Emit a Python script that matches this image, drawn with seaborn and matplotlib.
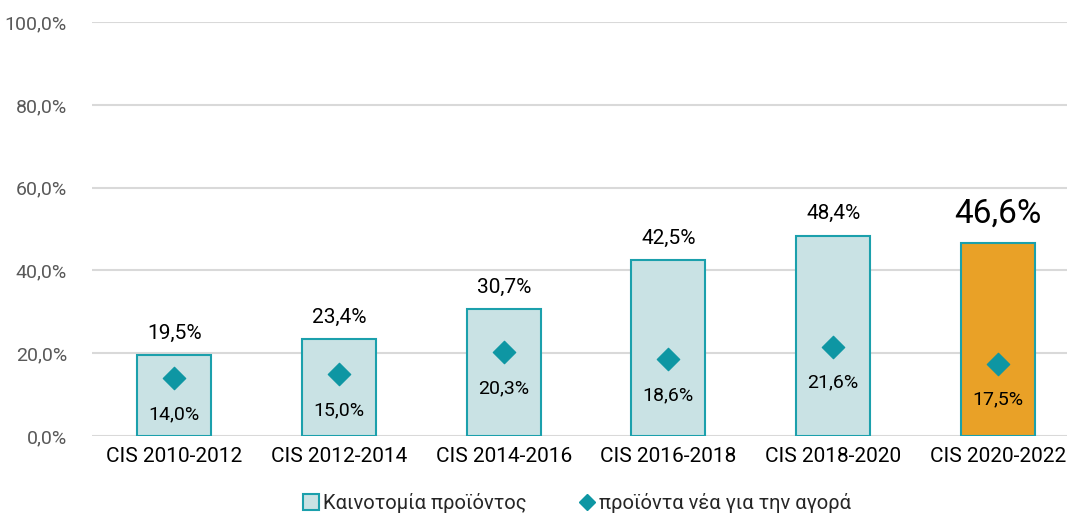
import matplotlib
matplotlib.use("Agg")
import matplotlib.pyplot as plt
import seaborn as sns
import pandas as pd
from matplotlib.lines import Line2D

# data
periods = ["CIS 2010-2012", "CIS 2012-2014", "CIS 2014-2016",
           "CIS 2016-2018", "CIS 2018-2020", "CIS 2020-2022"]
product_innov = [19.5, 23.4, 30.7, 42.5, 48.4, 46.6]
new_to_market = [14.0, 15.0, 20.3, 18.6, 21.6, 17.5]
series_names = ["Καινοτομία προϊόντος", "προϊόντα νέα για την αγορά"]
yticks = [0, 20, 40, 60, 80, 100]

LIGHT = "#C9E2E4"
ORANGE = "#E9A127"
TEAL = "#0E96A3"
EDGE = "#1BA0AC"

sns.set_theme(style="white")
plt.rcParams["font.family"] = ["Roboto", "DejaVu Sans"]

df = pd.DataFrame({"period": periods, "prod": product_innov, "market": new_to_market})

fig = plt.figure(figsize=(10.67, 5.16), dpi=100)
ax = fig.add_axes([0.0862, 0.155, 0.9138, 0.802])

colors = [LIGHT] * (len(periods) - 1) + [ORANGE]
sns.barplot(data=df, x="period", y="prod", hue="period", palette=colors,
            legend=False, width=0.45, saturation=1, edgecolor=EDGE,
            linewidth=1.5, ax=ax, zorder=2)
sns.scatterplot(data=df, x="period", y="market", marker="D", s=130,
                color=TEAL, edgecolor=TEAL, ax=ax, zorder=3)

ax.set_ylim(0, 100)
ax.set_xlim(-0.5, 5.42)
ax.set_yticks(yticks)
ax.set_yticklabels([f"{v:.1f}%".replace(".", ",") for v in yticks],
                   color="#595959", fontsize=14)
ax.tick_params(axis="x", labelsize=15, colors="black", pad=8, length=0)
ax.tick_params(axis="y", length=0, pad=18)
ax.grid(axis="y", color="#D9D9D9", linewidth=1.5, zorder=0)
ax.set_axisbelow(True)
for s in ax.spines.values():
    s.set_visible(False)
ax.set_xlabel("")
ax.set_ylabel("")

# value labels
for i, v in enumerate(product_innov):
    last = i == len(periods) - 1
    ax.annotate(f"{v:.1f}%".replace(".", ","), (i, v), xytext=(0, 9 if not last else 10),
                textcoords="offset points", ha="center", va="bottom",
                fontsize=24 if last else 15, color="black")
for i, v in enumerate(new_to_market):
    ax.annotate(f"{v:.1f}%".replace(".", ","), (i, v), xytext=(0, -26),
                textcoords="offset points", ha="center", va="center",
                fontsize=14, color="black")

handles = [
    Line2D([], [], marker="s", linestyle="none", markersize=11,
           markerfacecolor=LIGHT, markeredgecolor=EDGE, markeredgewidth=1.5),
    Line2D([], [], marker="D", linestyle="none", markersize=8,
           markerfacecolor=TEAL, markeredgecolor=TEAL),
]
fig.legend(handles, series_names, loc="center", bbox_to_anchor=(0.54, 0.025),
           ncol=2, frameon=False, fontsize=14.5, handletextpad=0.1,
           columnspacing=2.5, handlelength=1.0)

fig.savefig("out.png", dpi=100)
